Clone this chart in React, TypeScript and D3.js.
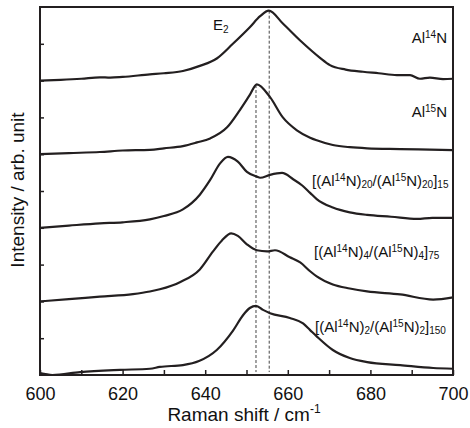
import React, { useEffect, useRef } from "react";
import * as d3 from "d3";

const W = 470;
const H = 428;
const margin = { top: 7, right: 17, bottom: 53, left: 40 };

const xTicks = [600, 620, 640, 660, 680, 700];
const xMinorTicks = [610, 630, 650, 670, 690];
const yTicks = [1, 2, 3, 4, 5, 6, 7, 8, 9];

// [Raman shift, intensity above own baseline]
const al14n = [
  [600, 0], [605, 0.02], [610, 0.05], [614.5, 0.09], [617, 0.08], [620, 0.1],
  [626.6, 0.17], [630, 0.2], [634.6, 0.26], [638.7, 0.4], [642.8, 0.6],
  [646.7, 1.0], [650.8, 1.45], [653.3, 1.75], [655.4, 1.9], [658.8, 1.55],
  [663, 1.09], [667.8, 0.62], [670.2, 0.42], [674, 0.3], [678.2, 0.24],
  [682, 0.2], [686.4, 0.15], [689.6, 0.15], [692, 0.05], [694.4, 0.08],
  [697.6, 0.04], [700, 0.05],
];
const al15n = [
  [600, 0], [607, 0.03], [614.5, 0.06], [620, 0.1], [626.6, 0.12], [630, 0.16],
  [634.6, 0.22], [638, 0.32], [641.2, 0.43], [645.3, 0.73], [648.4, 1.2],
  [650.8, 1.61], [652.5, 1.9], [655.7, 1.55], [658.8, 1.0], [662.2, 0.65],
  [665.4, 0.45], [667, 0.38], [670.9, 0.25], [675, 0.19], [679.2, 0.16],
  [687.2, 0.14], [700, 0.11],
];
const sl20 = [
  [600, 0], [607, 0.06], [614.5, 0.12], [620, 0.15], [626.6, 0.23], [630, 0.32],
  [634.6, 0.5], [638.7, 0.9], [641.2, 1.3], [643.6, 1.75], [645.5, 1.93],
  [647.9, 1.8], [650.1, 1.52], [652.5, 1.39], [653.3, 1.36], [655.7, 1.44],
  [658.6, 1.49], [661.3, 1.32], [663.5, 1.15], [665.4, 0.95], [667, 0.78],
  [670.9, 0.55], [675, 0.42], [679.2, 0.35], [685, 0.3], [691.3, 0.24],
  [695, 0.27], [700, 0.27],
];
const sl4 = [
  [600, 0], [607, 0.06], [614.5, 0.13], [622.5, 0.2], [626.6, 0.27], [629, 0.33],
  [634, 0.53], [638.7, 0.87], [641.9, 1.36], [644, 1.65], [646.3, 1.85],
  [647.9, 1.78], [650.1, 1.55], [652.5, 1.39], [655, 1.36], [656.9, 1.39],
  [660.5, 1.2], [663, 1.06], [665.4, 0.82], [667, 0.68], [670.9, 0.46],
  [675, 0.35], [679.2, 0.27], [687.2, 0.19], [695.2, 0.05], [700, 0.11],
];
const sl2 = [
  [600, 0.05], [603, 0], [609.7, 0.08], [619.4, 0.14], [626.6, 0.17], [629, 0.22],
  [634.6, 0.27], [638.5, 0.38], [642.8, 0.68], [646.7, 1.2], [649.2, 1.63],
  [650.8, 1.82], [652.3, 1.88], [654, 1.77], [655.7, 1.68], [660.5, 1.55],
  [663.7, 1.4], [665.4, 1.22], [667, 1.05], [670.9, 0.68], [675, 0.46],
  [679.2, 0.35], [687.2, 0.27], [695.2, 0.19], [700, 0.17],
];

const offsets = [8, 6, 4, 2, 0];
const spectra = [al14n, al15n, sl20, sl4, sl2];

// label parts: n = normal, sup, sub
const labels = [
  [["Al", "n"], ["14", "sup"], ["N", "n"]],
  [["Al", "n"], ["15", "sup"], ["N", "n"]],
  [["[(Al", "n"], ["14", "sup"], ["N)", "n"], ["20", "sub"], ["/(Al", "n"], ["15", "sup"], ["N)", "n"], ["20", "sub"], ["]", "n"], ["15", "sub"]],
  [["[(Al", "n"], ["14", "sup"], ["N)", "n"], ["4", "sub"], ["/(Al", "n"], ["15", "sup"], ["N)", "n"], ["4", "sub"], ["]", "n"], ["75", "sub"]],
  [["[(Al", "n"], ["14", "sup"], ["N)", "n"], ["2", "sub"], ["/(Al", "n"], ["15", "sup"], ["N)", "n"], ["2", "sub"], ["]", "n"], ["150", "sub"]],
];

// E2 reference lines: [shift, top, bottom]
const e2Lines = [
  [652.3, 7.88, 0.08],
  [655.5, 9.9, 0.08],
];

const FONT = "'Liberation Sans', Arial, sans-serif";
const INK = "#231f20";

export default function App() {
  const ref = useRef<SVGSVGElement>(null);

  useEffect(() => {
    const svg = d3.select(ref.current).html("");

    const x = d3.scaleLinear().domain([600, 700]).range([margin.left, W - margin.right]);
    const y = d3.scaleLinear().domain([0, 10]).range([H - margin.bottom, margin.top]);

    // dashed E2 markers
    svg.selectAll("line.e2")
      .data(e2Lines)
      .enter()
      .append("line")
        .attr("x1", d => x(d[0])).attr("x2", d => x(d[0]))
        .attr("y1", d => y(d[1])).attr("y2", d => y(d[2]))
        .attr("stroke", "#444").attr("stroke-width", 1)
        .attr("stroke-dasharray", "3,2");

    const line = d3.line<number[]>()
      .x(d => x(d[0]))
      .y(d => d[1])
      .curve(d3.curveMonotoneX);

    svg.selectAll("path.spec")
      .data(spectra)
      .enter()
      .append("path")
        .attr("fill", "none")
        .attr("stroke", INK)
        .attr("stroke-width", 2.2)
        .attr("stroke-linejoin", "round")
        .attr("d", (d, i) => line(d.map(p => [p[0], y(p[1] + offsets[i])])));

    // frame
    svg.append("rect")
      .attr("x", margin.left).attr("y", margin.top)
      .attr("width", W - margin.left - margin.right)
      .attr("height", H - margin.top - margin.bottom)
      .attr("fill", "none").attr("stroke", INK).attr("stroke-width", 2);

    const xAxis = svg.append("g")
      .attr("transform", `translate(0,${H - margin.bottom})`)
      .call(d3.axisBottom(x).tickValues(xTicks).tickSizeInner(-5).tickSizeOuter(0).tickPadding(12));
    xAxis.select(".domain").remove();
    xAxis.selectAll("line").attr("stroke", INK).attr("stroke-width", 1.5);
    xAxis.selectAll("text")
      .attr("font-family", FONT).attr("font-size", 18).attr("fill", "#111");

    const xMinor = svg.append("g")
      .attr("transform", `translate(0,${H - margin.bottom})`)
      .call(d3.axisBottom(x).tickValues(xMinorTicks).tickSizeInner(-5).tickSizeOuter(0).tickFormat(() => ""));
    xMinor.select(".domain").remove();
    xMinor.selectAll("line").attr("stroke", INK).attr("stroke-width", 1.5);

    const yAxis = svg.append("g")
      .attr("transform", `translate(${margin.left},0)`)
      .call(d3.axisLeft(y).tickValues(yTicks).tickSizeInner(-4).tickSizeOuter(0).tickFormat(() => ""));
    yAxis.select(".domain").remove();
    yAxis.selectAll("line").attr("stroke", INK).attr("stroke-width", 1.5);

    // axis titles
    const xt = svg.append("text")
      .attr("x", 244).attr("y", 421)
      .attr("text-anchor", "middle")
      .attr("font-family", FONT).attr("font-size", 19).attr("fill", "#111");
    xt.append("tspan").text("Raman shift / cm");
    xt.append("tspan").attr("font-size", 12).attr("dy", -8).text("-1");

    svg.append("text")
      .attr("transform", "translate(24,190) rotate(-90)")
      .attr("text-anchor", "middle")
      .attr("font-family", FONT).attr("font-size", 19).attr("fill", "#111")
      .text("Intensity / arb. unit");

    // E2
    const e2 = svg.append("text")
      .attr("x", 213).attr("y", 30)
      .attr("font-family", FONT).attr("font-size", 15).attr("fill", "#111");
    e2.append("tspan").text("E");
    e2.append("tspan").attr("font-size", 10).attr("dy", 3).text("2");

    // sample labels
    const labelPos = [
      { x: 447, y: 43, anchor: "end" },
      { x: 447, y: 117, anchor: "end" },
      { x: 312, y: 186, anchor: "start" },
      { x: 314, y: 257, anchor: "start" },
      { x: 315, y: 332, anchor: "start" },
    ];
    const shift: Record<string, number> = { n: 0, sup: -5, sub: 2 };
    labels.forEach((parts, i) => {
      const t = svg.append("text")
        .attr("x", labelPos[i].x).attr("y", labelPos[i].y)
        .attr("text-anchor", labelPos[i].anchor)
        .attr("font-family", FONT).attr("font-size", 15).attr("fill", "#111");
      let prev = 0;
      parts.forEach(([txt, kind]) => {
        const s = shift[kind];
        t.append("tspan")
          .attr("dy", s - prev)
          .attr("font-size", kind === "n" ? 15 : 10)
          .text(txt);
        prev = s;
      });
    });
  }, []);

  return (
    <svg
      ref={ref}
      width={W}
      height={H}
      style={{ position: "absolute", left: 0, top: 0, background: "#fff" }}
    />
  );
}
